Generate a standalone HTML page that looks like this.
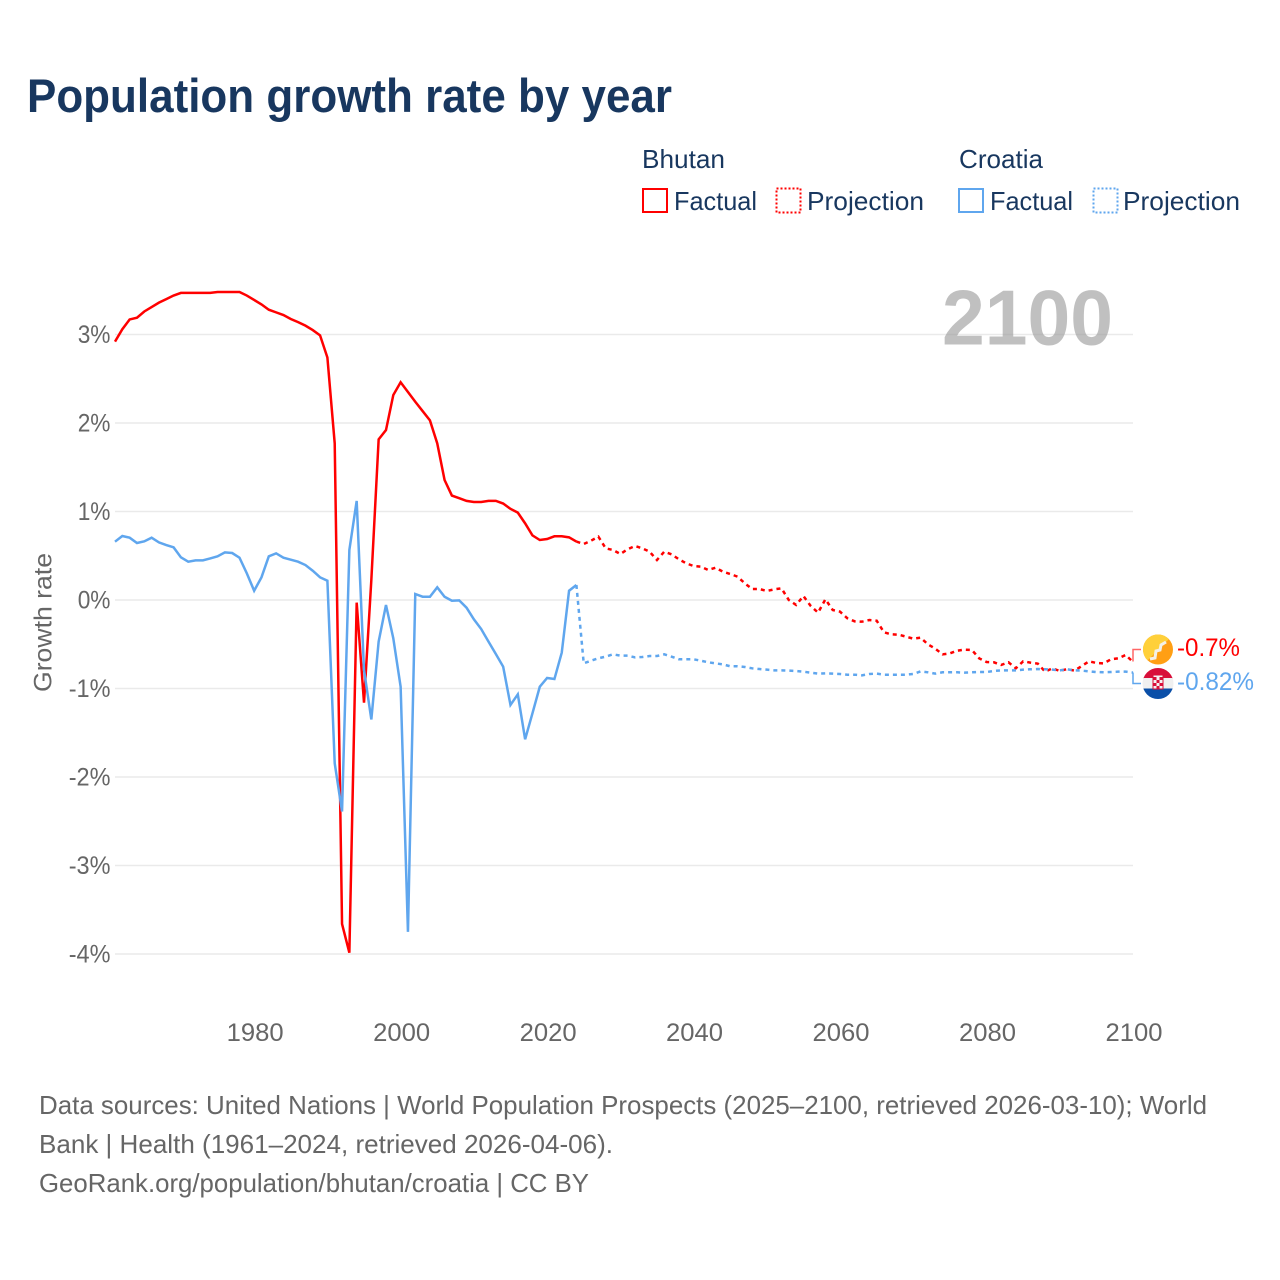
<!DOCTYPE html>
<html lang="en">
<head>
<meta charset="utf-8">
<title>Population growth rate by year</title>
<style>
html,body{margin:0;padding:0;background:#fff;}
svg{display:block;font-family:"Liberation Sans",sans-serif;}
</style>
</head>
<body>
<svg id="chart" xmlns="http://www.w3.org/2000/svg" width="1280" height="1280" viewBox="0 0 1280 1280">
  <rect x="0" y="0" width="1280" height="1280" fill="#ffffff"/>
  <text x="27" y="112" font-size="47" font-weight="700" fill="#18375f" textLength="645" lengthAdjust="spacingAndGlyphs">Population growth rate by year</text>

  <g font-size="26" fill="#18375f">
    <text x="642" y="168" textLength="83" lengthAdjust="spacingAndGlyphs">Bhutan</text>
    <text x="959" y="168" textLength="84" lengthAdjust="spacingAndGlyphs">Croatia</text>
    <rect x="643" y="189" width="24" height="23" fill="none" stroke="#ff0000" stroke-width="2"/>
    <text x="674" y="210" textLength="83" lengthAdjust="spacingAndGlyphs">Factual</text>
    <rect x="776.5" y="188.5" width="24" height="24" fill="none" stroke="#ff0000" stroke-width="2" stroke-dasharray="2 2"/>
    <text x="807" y="210" textLength="117" lengthAdjust="spacingAndGlyphs">Projection</text>
    <rect x="959" y="189" width="24" height="23" fill="none" stroke="#5fa6ee" stroke-width="2"/>
    <text x="990" y="210" textLength="83" lengthAdjust="spacingAndGlyphs">Factual</text>
    <rect x="1093.5" y="188.5" width="24" height="24" fill="none" stroke="#5fa6ee" stroke-width="2" stroke-dasharray="2 2"/>
    <text x="1123" y="210" textLength="117" lengthAdjust="spacingAndGlyphs">Projection</text>
  </g>

  <g id="grid"></g>
  <text x="942" y="344.5" font-size="78" font-weight="700" fill="#999999" fill-opacity="0.62" textLength="171" lengthAdjust="spacingAndGlyphs">2100</text>
  <g id="series"></g>
  <g id="yticks" font-size="25" fill="#666666"></g>
  <g id="xticks" font-size="25" fill="#666666"></g>
  <text transform="translate(51.5,692) rotate(-90)" font-size="25" fill="#666666" textLength="139" lengthAdjust="spacingAndGlyphs">Growth rate</text>

  <g id="endpoints">
    <polyline points="1133,661.5 1133,649.5 1141,649.5" fill="none" stroke="#ff0000" stroke-opacity="0.6" stroke-width="1.5"/>
    <polyline points="1133,672.5 1133,683.5 1141,683.5" fill="none" stroke="#5fa6ee" stroke-width="1.5"/>

    <g>
      <clipPath id="clip-bt"><circle cx="1158" cy="649.5" r="15"/></clipPath>
      <g clip-path="url(#clip-bt)">
        <rect x="1143" y="634" width="31" height="31" fill="#ff9f14"/>
        <polygon points="1143,634 1174,634 1143,665" fill="#ffd03a"/>
        <path d="M1150,659 L1155,658 L1156,651 L1160,650 L1161,645 L1166,642" fill="none" stroke="#f4f0e6" stroke-width="3"/>
      </g>
    </g>
    <g>
      <clipPath id="clip-hr"><circle cx="1158" cy="683.5" r="15.5"/></clipPath>
      <g clip-path="url(#clip-hr)">
        <rect x="1142" y="668" width="32" height="11" fill="#d80f3a"/>
        <rect x="1142" y="678" width="32" height="11" fill="#f0f0f0"/>
        <rect x="1142" y="688.5" width="32" height="11" fill="#0a4fa8"/>
        <rect x="1153" y="675" width="10" height="14" fill="#f3f3f3" stroke="#d80f3a" stroke-width="1"/>
        <rect x="1153.5" y="677" width="3" height="3" fill="#d80f3a"/>
        <rect x="1159.5" y="677" width="3" height="3" fill="#d80f3a"/>
        <rect x="1156.5" y="680" width="3" height="3" fill="#d80f3a"/>
        <rect x="1153.5" y="683" width="3" height="3" fill="#d80f3a"/>
        <rect x="1159.5" y="683" width="3" height="3" fill="#d80f3a"/>
        <rect x="1156.5" y="686" width="3" height="3" fill="#d80f3a"/>
      </g>
    </g>
    <text x="1177" y="656" font-size="25" fill="#ff0000" textLength="63" lengthAdjust="spacingAndGlyphs">-0.7%</text>
    <text x="1177" y="690" font-size="25" fill="#5fa6ee" textLength="77" lengthAdjust="spacingAndGlyphs">-0.82%</text>
  </g>

  <g font-size="26" fill="#666666">
    <text x="39" y="1114" textLength="1168" lengthAdjust="spacingAndGlyphs">Data sources: United Nations | World Population Prospects (2025–2100, retrieved 2026-03-10); World</text>
    <text x="39" y="1153" textLength="574" lengthAdjust="spacingAndGlyphs">Bank | Health (1961–2024, retrieved 2026-04-06).</text>
    <text x="39" y="1192" textLength="550" lengthAdjust="spacingAndGlyphs">GeoRank.org/population/bhutan/croatia | CC BY</text>
  </g>
</svg>

<script>
// Chart data (percent per year)
const factualStartYear = 1961;
const projectionStartYear = 2024;
const xTickYears = [1980, 2000, 2020, 2040, 2060, 2080, 2100];
const yTickValues = [3, 2, 1, 0, -1, -2, -3, -4];

const bhutanFactual = [
  2.92, 3.06, 3.17, 3.19, 3.26, 3.31, 3.36, 3.40, 3.44, 3.47,
  3.47, 3.47, 3.47, 3.47, 3.48, 3.48, 3.48, 3.48, 3.44, 3.39,
  3.34, 3.28, 3.25, 3.22, 3.175, 3.14, 3.10, 3.05, 2.99, 2.74,
  1.77, -3.66, -3.985, -0.03, -1.16, 0.225, 1.815, 1.92, 2.316, 2.46,
  2.35, 2.24, 2.135, 2.03, 1.77, 1.356, 1.18, 1.15, 1.12, 1.107,
  1.107, 1.12, 1.12, 1.09, 1.03, 0.987, 0.866, 0.73, 0.678, 0.689,
  0.72, 0.72, 0.708, 0.66
];
const bhutanProjection = [
  0.66, 0.633, 0.670, 0.716, 0.584, 0.565, 0.520, 0.573, 0.610, 0.584,
  0.546, 0.452, 0.546, 0.516, 0.460, 0.414, 0.384, 0.377, 0.339, 0.365,
  0.320, 0.294, 0.264, 0.188, 0.124, 0.124, 0.102, 0.120, 0.132, 0.0,
  -0.056, 0.045, -0.068, -0.143, 0.008, -0.113, -0.132, -0.207, -0.241, -0.245,
  -0.226, -0.234, -0.365, -0.388, -0.392, -0.414, -0.437, -0.426, -0.501, -0.550,
  -0.614, -0.603, -0.573, -0.561, -0.565, -0.659, -0.701, -0.704, -0.734, -0.704,
  -0.772, -0.693, -0.708, -0.719, -0.810, -0.772, -0.802, -0.780, -0.798, -0.746,
  -0.693, -0.712, -0.716, -0.670, -0.659, -0.621, -0.70
];
const croatiaFactual = [
  0.659, 0.723, 0.704, 0.644, 0.663, 0.704, 0.651, 0.621, 0.595, 0.482,
  0.433, 0.448, 0.448, 0.470, 0.493, 0.538, 0.531, 0.478, 0.301, 0.105,
  0.256, 0.493, 0.527, 0.478, 0.455, 0.433, 0.395, 0.331, 0.256, 0.218,
  -1.845, -2.39, 0.565, 1.12, -0.79, -1.35, -0.47, -0.056, -0.433, -0.98,
  -3.75, 0.068, 0.037, 0.037, 0.143, 0.037, -0.008, -0.004, -0.087, -0.218,
  -0.328, -0.471, -0.61, -0.753, -1.186, -1.066, -1.574, -1.28, -0.98, -0.881,
  -0.893, -0.595, 0.105, 0.17
];
const croatiaProjection = [
  0.17, -0.715, -0.686, -0.659, -0.640, -0.614, -0.629, -0.629, -0.648, -0.644,
  -0.633, -0.633, -0.614, -0.640, -0.670, -0.670, -0.670, -0.686, -0.704, -0.716,
  -0.727, -0.749, -0.749, -0.757, -0.772, -0.780, -0.787, -0.795, -0.795, -0.798,
  -0.802, -0.810, -0.821, -0.832, -0.829, -0.832, -0.836, -0.844, -0.844, -0.851,
  -0.836, -0.832, -0.844, -0.844, -0.844, -0.844, -0.836, -0.806, -0.817, -0.832,
  -0.817, -0.817, -0.817, -0.821, -0.817, -0.814, -0.814, -0.802, -0.795, -0.795,
  -0.795, -0.787, -0.783, -0.780, -0.783, -0.787, -0.795, -0.783, -0.795, -0.798,
  -0.806, -0.814, -0.817, -0.814, -0.810, -0.810, -0.82
];

const NS = 'http://www.w3.org/2000/svg';
const xLeft = 115, xRight = 1133, yearMin = 1961, yearMax = 2100;
const yZero = 600, pxPerPercent = 88.5;

function xScale(year) {
  return xLeft + (year - yearMin) * (xRight - xLeft) / (yearMax - yearMin);
}
function yScale(value) {
  return yZero - value * pxPerPercent;
}
function labelWidth(label) {
  let w = 0;
  for (const ch of label) {
    w += ch === '%' ? 18.6 : ch === '-' ? 9 : 14.2;
  }
  return w;
}
function pointsFor(values, startYear) {
  return values.map(function (v, i) {
    return xScale(startYear + i).toFixed(2) + ',' + yScale(v).toFixed(2);
  }).join(' ');
}

const grid = document.getElementById('grid');
const yticks = document.getElementById('yticks');
yTickValues.forEach(function (v) {
  const line = document.createElementNS(NS, 'line');
  
  
  line.setAttribute('x1', xLeft);
  line.setAttribute('x2', xRight);
  line.setAttribute('y1', yScale(v));
  line.setAttribute('y2', yScale(v));
  line.setAttribute('stroke', '#eaeaea');
  line.setAttribute('stroke-width', '1.5');
  grid.appendChild(line);

  const label = v + '%';
  const t = document.createElementNS(NS, 'text');
  
  
  t.setAttribute('x', 110.5 - labelWidth(label));
  t.setAttribute('y', yScale(v) + 8.5);
  t.setAttribute('textLength', labelWidth(label));
  t.setAttribute('lengthAdjust', 'spacingAndGlyphs');
  t.textContent = label;
  yticks.appendChild(t);
});

const xticks = document.getElementById('xticks');
xTickYears.forEach(function (year) {
  const t = document.createElementNS(NS, 'text');
  
  
  t.setAttribute('x', xScale(year) - 27.5);
  t.setAttribute('y', 1041);
  t.setAttribute('textLength', 57);
  t.setAttribute('lengthAdjust', 'spacingAndGlyphs');
  t.textContent = String(year);
  xticks.appendChild(t);
});

const seriesGroup = document.getElementById('series');
function addLine(values, startYear, color, dashed, name) {
  const p = document.createElementNS(NS, 'polyline');
  
  
  p.setAttribute('points', pointsFor(values, startYear));
  p.setAttribute('fill', 'none');
  p.setAttribute('stroke', color);
  p.setAttribute('stroke-width', '2.5');
  p.setAttribute('stroke-linejoin', 'miter');
  if (dashed) {
    p.setAttribute('stroke-dasharray', '4 4');
  }
  seriesGroup.appendChild(p);
}
addLine(bhutanFactual, factualStartYear, '#ff0000', false, 'bhutan-factual-line');
addLine(bhutanProjection, projectionStartYear, '#ff0000', true, 'bhutan-projection-line');
addLine(croatiaFactual, factualStartYear, '#5fa6ee', false, 'croatia-factual-line');
addLine(croatiaProjection, projectionStartYear, '#5fa6ee', true, 'croatia-projection-line');
</script>
</body>
</html>
